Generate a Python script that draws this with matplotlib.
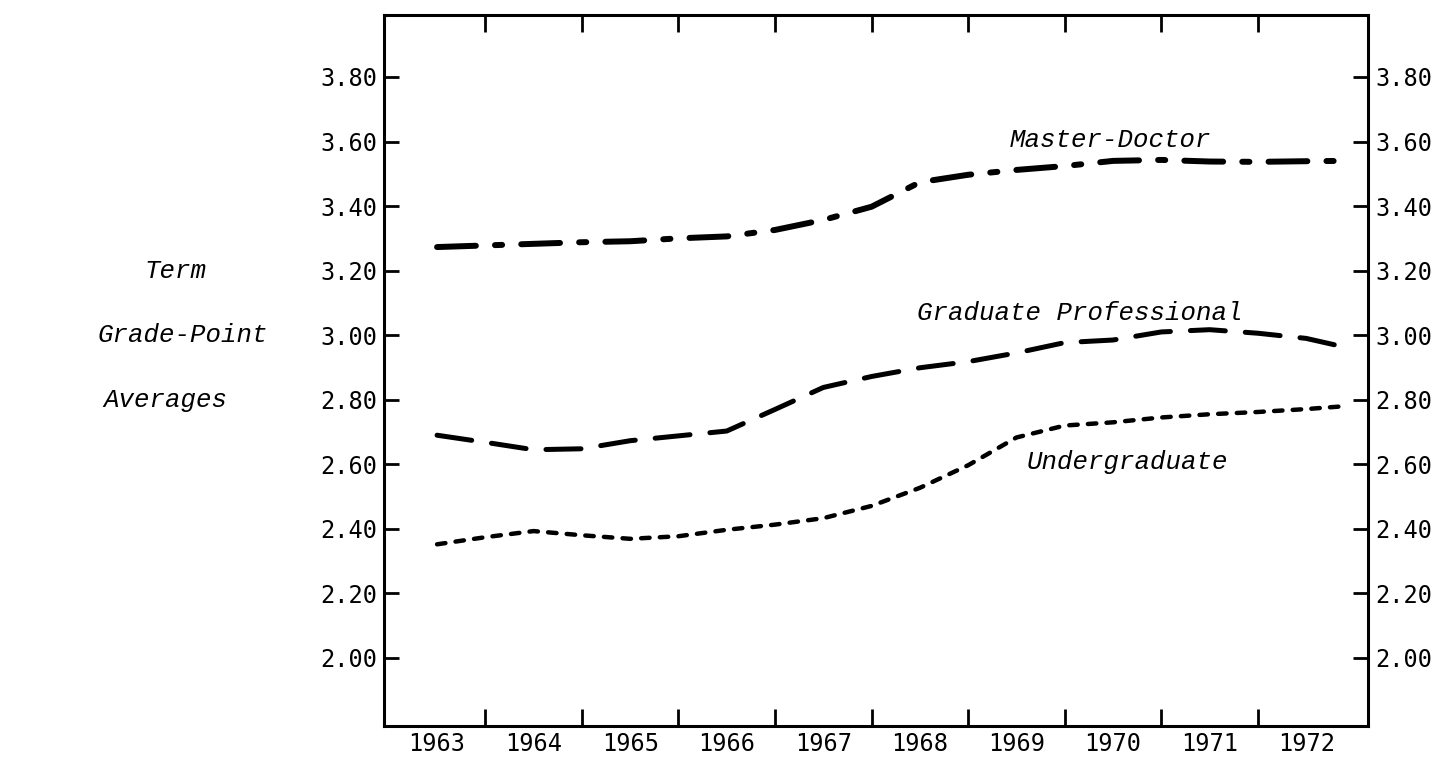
import numpy as np
import matplotlib
matplotlib.use('Agg')
import matplotlib.pyplot as plt
from matplotlib.transforms import blended_transform_factory

# Data (term grade-point averages)
terms = [1963.0, 1963.5, 1964.0, 1964.5, 1965.0, 1965.5, 1966.0, 1966.5, 1967.0, 1967.5,
         1968.0, 1968.5, 1969.0, 1969.5, 1970.0, 1970.5, 1971.0, 1971.5, 1972.0, 1972.4]
master_doctor = [3.273, 3.278, 3.283, 3.288, 3.291, 3.300, 3.306, 3.326, 3.357, 3.398,
                 3.474, 3.497, 3.512, 3.524, 3.540, 3.543, 3.538, 3.537, 3.539, 3.540]
grad_prof = [2.690, 2.668, 2.645, 2.648, 2.673, 2.688, 2.703, 2.770, 2.838, 2.872,
             2.899, 2.918, 2.945, 2.977, 2.985, 3.010, 3.017, 3.006, 2.990, 2.963]
undergrad = [2.352, 2.374, 2.393, 2.380, 2.369, 2.377, 2.397, 2.413, 2.433, 2.471,
             2.527, 2.597, 2.683, 2.720, 2.730, 2.745, 2.755, 2.762, 2.771, 2.780]

years = list(range(1963, 1973))
year_labels = [str(y) for y in years]
gpa_ticks = [2.00, 2.20, 2.40, 2.60, 2.80, 3.00, 3.20, 3.40, 3.60, 3.80]
gpa_labels = ['%.2f' % v for v in gpa_ticks]

mono = 'DejaVu Sans Mono'
italic = dict(family='Liberation Mono', style='italic', fontsize=18.5)

fig = plt.figure(figsize=(14.38, 7.58), dpi=100)
ax = fig.add_axes([0.267, 0.0422, 0.6843, 0.938])

ax.plot(terms, master_doctor, color='black', lw=4.3, dash_capstyle='round',
        linestyle=(0, (6.5, 3.2, 1.2, 3.2)))
ax.plot(terms, grad_prof, color='black', lw=3.6, dash_capstyle='round',
        linestyle=(0, (7, 4)))
ax.plot(terms, undergrad, color='black', lw=3.2, dash_capstyle='round',
        linestyle=(0, (1.9, 2.3)))

ax.set_xlim(1962.45, 1972.64)
ax.set_ylim(1.789, 3.992)

# year boundaries get the tick marks, year labels sit in between
ax.set_xticks([y + 0.5 for y in years[:-1]])
ax.set_xticklabels([])
ax.set_xticks(years, minor=True)
ax.set_xticklabels(year_labels, minor=True, fontfamily=mono, fontsize=17)
ax.tick_params(axis='x', which='major', direction='in', length=12, width=2,
               top=True, bottom=True)
ax.tick_params(axis='x', which='minor', length=0, pad=4)

ax.set_yticks(gpa_ticks)
ax.set_yticklabels(gpa_labels, fontfamily=mono, fontsize=17)
ax.tick_params(axis='y', direction='in', length=11, width=2, left=True, right=True,
               labelleft=True, labelright=True, pad=5)

for s in ax.spines.values():
    s.set_linewidth(2.2)

ax.text(1969.97, 3.605, 'Master-Doctor', ha='center', va='center', **italic)
ax.text(1969.66, 3.069, 'Graduate Professional', ha='center', va='center', **italic)
ax.text(1970.15, 2.607, 'Undergraduate', ha='center', va='center', **italic)

# side title, typed to the left of the axis
tr = blended_transform_factory(fig.transFigure, ax.transData)
ax.text(0.122, 3.20, 'Term', transform=tr, ha='center', va='center', **italic)
ax.text(0.127, 3.00, 'Grade-Point', transform=tr, ha='center', va='center', **italic)
ax.text(0.115, 2.80, 'Averages', transform=tr, ha='center', va='center', **italic)

fig.savefig('out.png', dpi=100)
